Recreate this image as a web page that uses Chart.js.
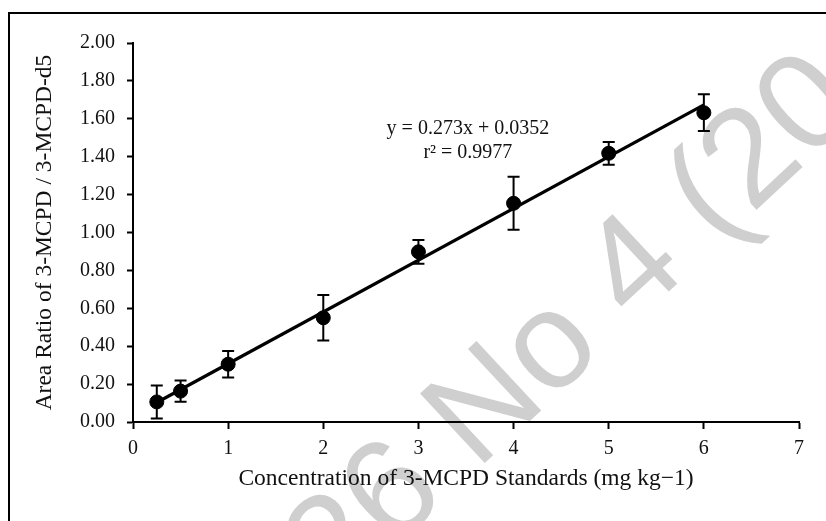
<!DOCTYPE html>
<html>
<head>
<meta charset="utf-8">
<script src="https://cdn.jsdelivr.net/npm/chart.js@4.4.1/dist/chart.umd.min.js"></script>
<style>
html,body{margin:0;padding:0;background:#fff;}
#wrap{width:826px;height:521px;position:relative;}
canvas{display:block;}
</style>
</head>
<body>
<div id="wrap"><canvas id="c" width="826" height="521"></canvas></div>
<script>
// ---- data ----
const concentrations = [0.25, 0.5, 1, 2, 3, 4, 5, 6];
const areaRatios     = [0.106, 0.163, 0.305, 0.550, 0.898, 1.154, 1.418, 1.632];
const errorValues    = [0.087, 0.056, 0.070, 0.120, 0.063, 0.140, 0.060, 0.097];
const trendX = [0.25, 6];
const trendY = [0.103, 1.673];
const xTickValues = [0, 1, 2, 3, 4, 5, 6, 7];
const yTickValues = [0, 0.2, 0.4, 0.6, 0.8, 1.0, 1.2, 1.4, 1.6, 1.8, 2.0];
const xTitle = 'Concentration of 3-MCPD Standards (mg kg\u22121)';
const yTitle = 'Area Ratio of 3-MCPD / 3-MCPD-d5';
const equationLines = ['y = 0.273x + 0.0352', 'r\u00B2 = 0.9977'];
const equationAnchor = {x: 3.52, y: 1.546};
const watermarkText = '26 No 4 (20';

const SERIF = '"Liberation Serif", "Times New Roman", Times, serif';

const pagePlugin = {
  id: 'page',
  beforeDraw(chart) {
    const ctx = chart.ctx;
    ctx.save();
    ctx.fillStyle = '#ffffff';
    ctx.fillRect(0, 0, chart.width, chart.height);
    // watermark
    const size = 138;
    ctx.font = size + 'px "Liberation Sans", Arial, sans-serif';
    ctx.fillStyle = 'rgb(207,207,207)';
    ctx.translate(628, 262);
    ctx.rotate(-43 * Math.PI / 180);
    const idx = watermarkText.indexOf('4');
    const pre = ctx.measureText(watermarkText.slice(0, idx)).width;
    const w4 = ctx.measureText('4').width;
    ctx.textBaseline = 'alphabetic';
    ctx.fillText(watermarkText, -(pre + w4 / 2), 0.358 * size);
    ctx.restore();
  },
  beforeDatasetsDraw(chart) {
    // error bars
    const ctx = chart.ctx;
    const xs = chart.scales.x, ys = chart.scales.y;
    ctx.save();
    ctx.strokeStyle = '#000';
    ctx.lineWidth = 2;
    for (let i = 0; i < concentrations.length; i++) {
      const px = xs.getPixelForValue(concentrations[i]);
      const top = ys.getPixelForValue(areaRatios[i] + errorValues[i]);
      const bot = ys.getPixelForValue(areaRatios[i] - errorValues[i]);
      ctx.beginPath();
      ctx.moveTo(px, top); ctx.lineTo(px, bot);
      ctx.moveTo(px - 6, top); ctx.lineTo(px + 6, top);
      ctx.moveTo(px - 6, bot); ctx.lineTo(px + 6, bot);
      ctx.stroke();
    }
    ctx.restore();
  },
  afterDraw(chart) {
    const ctx = chart.ctx;
    const xs = chart.scales.x, ys = chart.scales.y;
    ctx.save();
    // equation text
    ctx.fillStyle = '#111';
    ctx.font = '20px ' + SERIF;
    ctx.textAlign = 'center';
    ctx.textBaseline = 'middle';
    const ex = xs.getPixelForValue(equationAnchor.x);
    const ey = ys.getPixelForValue(equationAnchor.y);
    equationLines.forEach((t, i) => ctx.fillText(t, ex, ey + i * 24));
    // frame (cropped border)
    ctx.fillStyle = '#000';
    ctx.fillRect(8, 12, chart.width - 8, 2);
    ctx.fillRect(8, 12, 2, chart.height - 12);
    ctx.restore();
  }
};

new Chart(document.getElementById('c'), {
  type: 'scatter',
  data: {
    datasets: [
      {
        type: 'line',
        label: 'Trend',
        data: trendX.map((x, i) => ({x, y: trendY[i]})),
        borderColor: '#000',
        borderWidth: 3.2,
        pointRadius: 0,
        fill: false,
        order: 2
      },
      {
        label: 'Standards',
        data: concentrations.map((x, i) => ({x, y: areaRatios[i]})),
        backgroundColor: '#000',
        borderColor: '#000',
        borderWidth: 1,
        pointRadius: 7,
        pointHoverRadius: 7,
        order: 1
      }
    ]
  },
  plugins: [pagePlugin],
  options: {
    responsive: false,
    animation: false,
    devicePixelRatio: 1,
    layout: {padding: {left: 0, right: 27, top: 43, bottom: 0}},
    plugins: {legend: {display: false}, tooltip: {enabled: false}},
    scales: {
      x: {
        type: 'linear',
        min: 0, max: 7,
        afterBuildTicks(scale) { scale.ticks = xTickValues.map(v => ({value: v})); },
        afterFit(scale) { scale.height = 99; },
        ticks: {color: '#111', font: {family: SERIF, size: 20}, padding: 8,
                callback: v => String(v)},
        grid: {display: true, drawOnChartArea: false, drawTicks: true, tickLength: 7,
               tickWidth: 2, tickColor: '#000'},
        border: {display: true, color: '#000', width: 2},
        title: {display: true, text: xTitle, color: '#111',
                font: {family: SERIF, size: 23.5}, padding: {top: 0, bottom: 28}}
      },
      y: {
        type: 'linear',
        min: 0, max: 2,
        afterBuildTicks(scale) { scale.ticks = yTickValues.map(v => ({value: v})); },
        afterFit(scale) { scale.width = 133; },
        ticks: {color: '#111', font: {family: SERIF, size: 20}, padding: 12,
                callback: v => Number(v).toFixed(2)},
        grid: {display: true, drawOnChartArea: false, drawTicks: true, tickLength: 6,
               tickWidth: 2, tickColor: '#000'},
        border: {display: true, color: '#000', width: 2},
        title: {display: true, text: yTitle, color: '#111',
                font: {family: SERIF, size: 23.5}, padding: {top: 31, bottom: 0}}
      }
    }
  }
});
</script>
</body>
</html>
